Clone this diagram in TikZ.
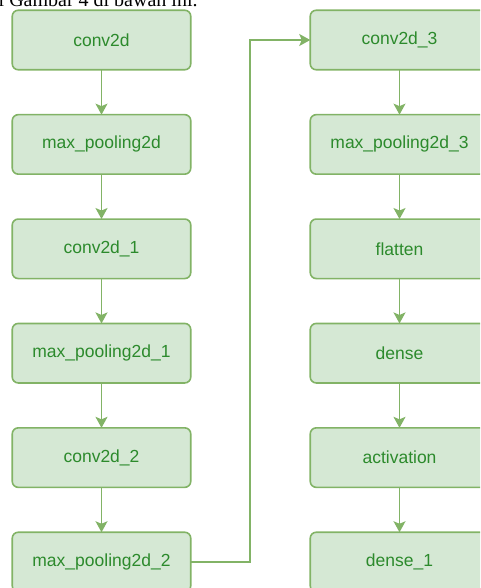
\documentclass[tikz,border=0pt]{standalone}
\usepackage{fontspec}
\setmainfont{Liberation Sans}
\newfontfamily\capserif{Liberation Serif}
\usetikzlibrary{arrows.meta}
\definecolor{boxfill}{HTML}{D5E8D4}
\definecolor{boxline}{HTML}{82B366}
\definecolor{boxtext}{HTML}{2C8A2C}
\begin{document}
\begin{tikzpicture}[x=1pt,y=-1pt,
  layer/.style={draw=boxline, fill=boxfill, line width=1.6pt, rounded corners=6pt,
    minimum width=178.5pt, minimum height=59.5pt, inner sep=0pt, outer sep=0pt,
    text=boxtext, font=\fontsize{17.5}{20}\selectfont},
  conn/.style={draw=boxline, line width=1.6pt, -{Stealth[length=11pt,width=12pt,inset=2.5pt]}}]
\clip (0,0) rectangle (480,588);
\useasboundingbox (0,0) rectangle (480,588);
% clipped caption text at the top
\node[anchor=base west, inner sep=0pt, font=\capserif\fontsize{20}{22}\selectfont] (cap) at (-1.5,7) {l Gambar 4 di bawah ini.};
% left column
\node[layer] (c0) at (101.5,40) {conv2d};
\node[layer] (m0) at (101.5,144.4) {max\_pooling2d};
\node[layer] (c1) at (101.5,248.8) {conv2d\_1};
\node[layer] (m1) at (101.5,353.2) {max\_pooling2d\_1};
\node[layer] (c2) at (101.5,457.6) {conv2d\_2};
\node[layer] (m2) at (101.5,562) {max\_pooling2d\_2};
% right column
\node[layer] (c3) at (399.5,40) {conv2d\_3};
\node[layer] (m3) at (399.5,144.4) {max\_pooling2d\_3};
\node[layer] (fl) at (399.5,248.8) {flatten};
\node[layer] (de) at (399.5,353.2) {dense};
\node[layer] (ac) at (399.5,457.6) {activation};
\node[layer] (d1) at (399.5,562) {dense\_1};
% connectors
\draw[conn] (c0) -- (m0);
\draw[conn] (m0) -- (c1);
\draw[conn] (c1) -- (m1);
\draw[conn] (m1) -- (c2);
\draw[conn] (c2) -- (m2);
\coordinate (elow) at (250,562);
\coordinate (ehigh) at (250,40);
\draw[conn] (m2.east) -- (elow) -- (ehigh) -- (c3.west);
\draw[conn] (c3) -- (m3);
\draw[conn] (m3) -- (fl);
\draw[conn] (fl) -- (de);
\draw[conn] (de) -- (ac);
\draw[conn] (ac) -- (d1);
\end{tikzpicture}
\end{document}
